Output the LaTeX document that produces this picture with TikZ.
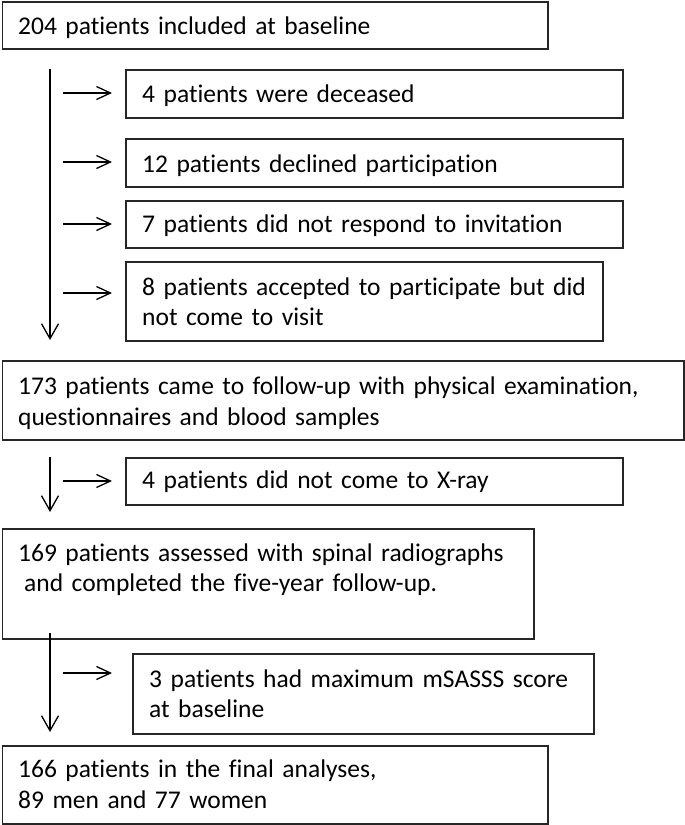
\documentclass[tikz,border=0pt]{standalone}
\usepackage{fontspec}
\setmainfont{Carlito}[Ligatures={NoCommon}]
\usetikzlibrary{arrows.meta}
\begin{document}
\begin{tikzpicture}[x=1pt,y=-1pt,
  box/.style={draw=black!85, line width=1.6pt, rectangle, inner sep=0pt, anchor=north west},
  txt/.style={anchor=base west, inner sep=0pt, align=left, text width=660pt,
    font=\fontsize{25.5}{30}\selectfont},
  wide/.style={font=\fontsize{25.5}{31}\selectfont},
  flow/.style={draw, line width=1.3pt, -{Straight Barb[length=15pt,width=17pt,line width=1.3pt]}},
  side/.style={draw, line width=1.3pt, -{Straight Barb[length=14pt,width=13pt,line width=1.3pt]}}]
\useasboundingbox (0,0) rectangle (685,825);
% main boxes
\node[box, minimum width=545.5pt, minimum height=47pt] (b1) at (1.5,1) {};
\node[box, minimum width=681.5pt, minimum height=79pt] (b2) at (1.5,360) {};
\node[box, minimum width=531.5pt, minimum height=110pt] (b3) at (1.5,528) {};
\node[box, minimum width=545.5pt, minimum height=78pt] (b4) at (1.5,745) {};
% side boxes
\node[box, minimum width=497pt, minimum height=48pt] (d1) at (125,69) {};
\node[box, minimum width=497pt, minimum height=48pt] (d2) at (125,138) {};
\node[box, minimum width=497pt, minimum height=47pt] (d3) at (125,200) {};
\node[box, minimum width=477pt, minimum height=79pt] (d4) at (125,261) {};
\node[box, minimum width=497pt, minimum height=47pt] (d5) at (125,457) {};
\node[box, minimum width=461pt, minimum height=80pt] (d6) at (132,653) {};
% texts
\node[txt] (t1) at (18,34) {204 patients included at baseline};
\node[txt] (t2) at (142,102) {4 patients were deceased};
\node[txt] (t3) at (142,172) {12 patients declined participation};
\node[txt] (t4) at (142,232) {7 patients did not respond to invitation};
\node[txt] (t5) at (142,295) {8 patients accepted to participate but did\\not come to visit};
\node[txt, wide] (t6) at (18,394) {173 patients came to follow-up with physical examination,\\questionnaires and blood samples};
\node[txt] (t7) at (142,488) {4 patients did not come to X-ray};
\node[txt] (t8) at (18,561) {169 patients assessed with spinal radiographs\\\hspace*{6pt}and completed the five-year follow-up.};
\node[txt] (t9) at (149,687) {3 patients had maximum mSASSS score\\at baseline};
\node[txt, wide] (t10) at (18,777) {166 patients in the final analyses,\\89 men and 77 women};
% connector coordinates
\coordinate (m1s) at (50,69);  \coordinate (m1e) at (50,340);
\coordinate (m2s) at (50,457); \coordinate (m2e) at (50,512);
\coordinate (m3s) at (50,633); \coordinate (m3e) at (50,732);
\foreach \y/\n in {93/1,162/2,224/3,293/4,481/5,673/6}{
  \coordinate (s\n) at (63,\y); \coordinate (e\n) at (112,\y);
}
\draw[flow] (m1s) -- (m1e);
\draw[flow] (m2s) -- (m2e);
\draw[flow] (m3s) -- (m3e);
\foreach \n in {1,...,6}{ \draw[side] (s\n) -- (e\n); }
\end{tikzpicture}
\end{document}
